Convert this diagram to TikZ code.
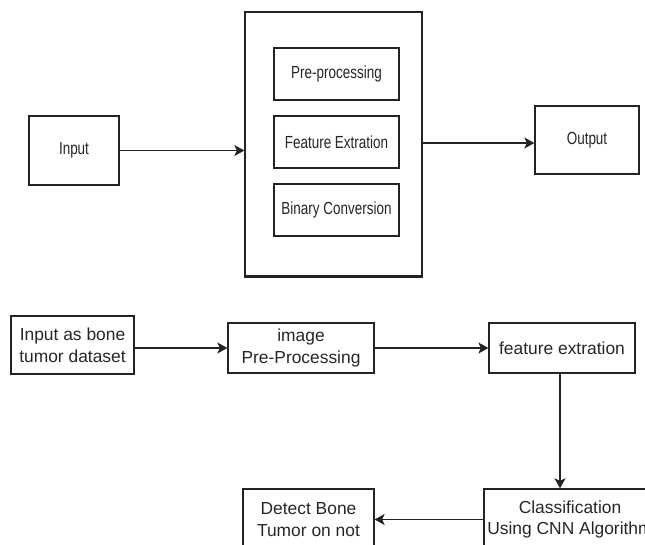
\documentclass[tikz,border=0pt]{standalone}
\usepackage{fontspec}
\setmainfont{Liberation Sans}
\newfontfamily\narrowfont[FakeStretch=0.77]{Liberation Sans}
\usepackage{tikz}
\usetikzlibrary{arrows.meta,positioning,calc}
\definecolor{linegray}{RGB}{35,35,35}

\begin{document}
\begin{tikzpicture}[
    x=1pt, y=-1pt,
    block/.style={rectangle, draw=linegray, line width=1.3pt, align=center,
                  inner sep=0pt, text=black!85},
    topblock/.style={block, font=\narrowfont\fontsize{17.5}{21}\selectfont},
    lowblock/.style={block, font=\fontsize{17.4}{21.7}\selectfont},
    flow/.style={-{Stealth[length=10pt,width=11pt,inset=2.5pt]}, line width=1.4pt, draw=linegray}
]
    \useasboundingbox (0,0) rectangle (645,544);
    \clip (0,0) rectangle (645,544);

    % Top: system overview
    \node[topblock, minimum width=90pt, minimum height=69pt] (input) at (74,150.5) {Input};
    \node[block, minimum width=177pt, minimum height=264pt] (system) at (333.5,144) {};
    \draw[linegray, line width=2.6pt] (system.south west) -- (system.south east);
    \node[topblock, minimum width=125pt, minimum height=52pt] (prep) at (336.5,74) {Pre-processing};
    \node[topblock, minimum width=125pt, minimum height=52pt] (feat) at (336.5,142) {Feature Extration};
    \node[topblock, minimum width=125pt, minimum height=52pt] (binary) at (336.5,210) {Binary Conversion};
    \node[topblock, minimum width=104pt, minimum height=68pt] (output) at (587,140) {Output};
    \draw[flow] (input.east) -- (input.east -| system.west);
    \draw[flow] ($(output.west -| system.east)+(0,3)$) -- ($(output.west)+(0,3)$);

    % Bottom: detection pipeline
    \node[lowblock, minimum width=123pt, minimum height=58pt] (dataset) at (72.5,345) {Input as bone\\tumor dataset};
    \node[lowblock, minimum width=146pt, minimum height=50pt] (imgprep) at (301,348) {image\\Pre-Processing};
    \node[lowblock, minimum width=146pt, minimum height=50pt] (featext) at (562,348) {feature extration};
    \node[lowblock, minimum width=172pt, minimum height=61pt] (classify) at (570,519.5) {Classification\\Using CNN Algorithm};
    \node[lowblock, minimum width=131pt, minimum height=61pt] (detect) at (308.5,519.5) {Detect Bone\\Tumor on not};
    \draw[flow] (dataset.east |- imgprep) -- (imgprep.west);
    \draw[flow] (imgprep.east) -- (featext.west);
    \draw[flow] ($(featext.south)+(-2,0)$) -- ($(featext.south |- classify.north)+(-2,0)$);
    \draw[flow] (classify.west) -- (detect.east);
\end{tikzpicture}
\end{document}
